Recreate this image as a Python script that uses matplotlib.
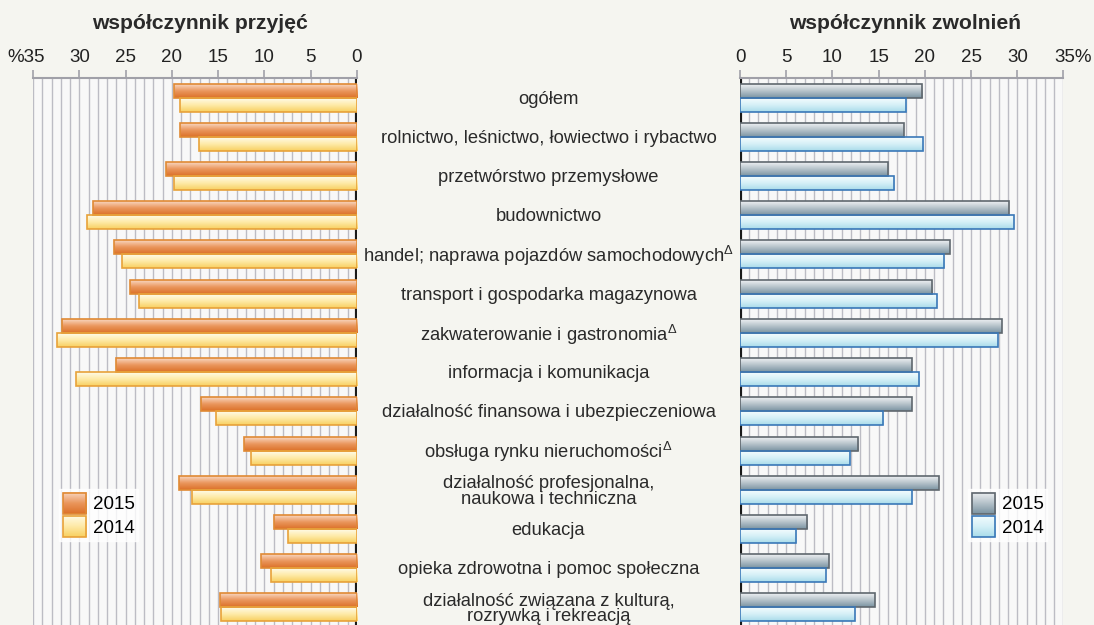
import numpy as np
import matplotlib
matplotlib.use("Agg")
import matplotlib.pyplot as plt
import matplotlib.transforms as mtrans
from matplotlib.colors import LinearSegmentedColormap
from matplotlib.patches import Patch, Rectangle
from matplotlib.legend_handler import HandlerBase
from matplotlib.image import BboxImage

plt.rcParams["font.family"] = ["Liberation Sans", "DejaVu Sans"]
plt.rcParams["mathtext.fontset"] = "custom"
plt.rcParams["mathtext.rm"] = "Liberation Sans"

# data
categories = [
    "ogółem",
    "rolnictwo, leśnictwo, łowiectwo i rybactwo",
    "przetwórstwo przemysłowe",
    "budownictwo",
    "handel; naprawa pojazdów samochodowych$^{\\Delta}$",
    "transport i gospodarka magazynowa",
    "zakwaterowanie i gastronomia$^{\\Delta}$",
    "informacja i komunikacja",
    "działalność finansowa i ubezpieczeniowa",
    "obsługa rynku nieruchomości$^{\\Delta}$",
    "działalność profesjonalna,\nnaukowa i techniczna",
    "edukacja",
    "opieka zdrowotna i pomoc społeczna",
    "działalność związana z kulturą,\nrozrywką i rekreacją",
]
hires_2015 = [19.8, 19.1, 20.6, 28.5, 26.2, 24.5, 31.9, 26.0, 16.9, 12.2, 19.2, 9.0, 10.4, 14.8]
hires_2014 = [19.1, 17.1, 19.8, 29.2, 25.4, 23.5, 32.4, 30.4, 15.2, 11.4, 17.8, 7.4, 9.3, 14.7]
fires_2015 = [19.7, 17.7, 16.0, 29.1, 22.7, 20.8, 28.3, 18.6, 18.6, 12.8, 21.5, 7.3, 9.6, 14.6]
fires_2014 = [18.0, 19.8, 16.7, 29.6, 22.1, 21.3, 27.9, 19.4, 15.5, 11.9, 18.6, 6.1, 9.3, 12.4]
years = ["2015", "2014"]
tick_values = [0, 5, 10, 15, 20, 25, 30, 35]

# gradient colours (top -> bottom of each bar)
cmap_or = LinearSegmentedColormap.from_list("or", ["#f8d6c0", "#ea965c", "#dc7028"])
cmap_ye = LinearSegmentedColormap.from_list("ye", ["#fffbe8", "#feeaa8", "#f8d060"])
cmap_gr = LinearSegmentedColormap.from_list("gr", ["#eef0f2", "#b5c2ca", "#7b93a1"])
cmap_cy = LinearSegmentedColormap.from_list("cy", ["#f4fcfe", "#d5f0f7", "#a9dcea"])

fig = plt.figure(figsize=(10.94, 6.25), dpi=100)
fig.patch.set_facecolor("#f5f5f0")

ax_l = fig.add_axes([33 / 1094, -2 / 625, 324 / 1094, 549 / 625])
ax_r = fig.add_axes([740 / 1094, -2 / 625, 323.5 / 1094, 549 / 625])

y = np.arange(len(categories))
h = 0.357
grad = np.linspace(0, 1, 64).reshape(-1, 1)


class GradHandler(HandlerBase):
    # legend swatch with the same vertical gradient as the bars
    def __init__(self, cmap, edge):
        super().__init__()
        self.cmap = cmap
        self.edge = edge

    def create_artists(self, legend, orig_handle, xdescent, ydescent,
                       width, height, fontsize, trans):
        bb = mtrans.Bbox.from_bounds(-xdescent, -ydescent, width, height)
        img = BboxImage(mtrans.TransformedBbox(bb, trans), cmap=self.cmap,
                        interpolation="bilinear")
        img.set_data(grad)
        rect = Rectangle((-xdescent, -ydescent), width, height, facecolor="none",
                         edgecolor=self.edge, linewidth=1.2, transform=trans)
        return [img, rect]


def gradient_bars(ax, vals, offset, cmap, edge):
    bars = ax.barh(y + offset, vals, height=h, facecolor="none",
                   edgecolor=edge, linewidth=1.2, zorder=4)
    for b in bars:
        x0, y0, w, hh = b.get_x(), b.get_y(), b.get_width(), b.get_height()
        ax.imshow(grad, cmap=cmap, extent=(x0, x0 + w, y0 + hh, y0),
                  aspect="auto", interpolation="bilinear", zorder=3)
    return bars


def style_axis(ax, inverted):
    ax.set_facecolor("#f8f8f8")
    ax.set_xlim((35, 0) if inverted else (0, 35))
    ax.set_ylim(13.5, -0.5)
    ax.set_yticks([])
    ax.xaxis.tick_top()
    ax.set_xticks(tick_values)
    ax.set_xticks(range(0, 36), minor=True)
    ax.grid(which="both", axis="x", color="#bcbcc4", linewidth=1, zorder=0)
    ax.set_axisbelow(True)
    ax.tick_params(which="major", top=True, bottom=False, labeltop=True,
                   labelbottom=False, length=6, width=1.2, color="#a0a0a8",
                   pad=3, labelsize=13.5, labelcolor="#222222")
    ax.tick_params(which="minor", top=False, bottom=False)
    for s in ["left", "right", "bottom"]:
        ax.spines[s].set_visible(False)
    ax.spines["top"].set_color("#a0a0a8")
    ax.spines["top"].set_linewidth(1.5)
    ax.axvline(0, color="#1a1a1a", linewidth=3, zorder=2)


def add_legend(ax, cmaps, edges, anchor):
    handles = [Patch(label=years[0]), Patch(label=years[1])]
    leg = ax.legend(handles=handles, loc="lower left", bbox_to_anchor=anchor,
                    fontsize=13.5, frameon=True, fancybox=False, handlelength=1.25,
                    handleheight=1.35, handletextpad=0.35, labelspacing=0.12,
                    borderpad=0.2, borderaxespad=0,
                    handler_map={handles[0]: GradHandler(cmaps[0], edges[0]),
                                 handles[1]: GradHandler(cmaps[1], edges[1])})
    leg.get_frame().set_facecolor("white")
    leg.get_frame().set_edgecolor("white")
    leg.set_zorder(6)
    return leg


# left panel - hires
gradient_bars(ax_l, hires_2015, -h / 2, cmap_or, "#e08a34")
gradient_bars(ax_l, hires_2014, h / 2, cmap_ye, "#e8a23a")
style_axis(ax_l, True)
labels_l = [str(v) for v in tick_values]
labels_l[-1] = "%35"
ax_l.set_xticklabels(labels_l)
lab = ax_l.get_xticklabels()[-1]
lab.set_transform(lab.get_transform() + mtrans.ScaledTranslation(-5 / 72, 0, fig.dpi_scale_trans))
add_legend(ax_l, [cmap_or, cmap_ye], ["#e08a34", "#e8a23a"], (0.08, 0.157))

# right panel - separations
gradient_bars(ax_r, fires_2015, -h / 2, cmap_gr, "#5f676e")
gradient_bars(ax_r, fires_2014, h / 2, cmap_cy, "#3a78b8")
style_axis(ax_r, False)
labels_r = [str(v) for v in tick_values]
labels_r[-1] = "35%"
ax_r.set_xticklabels(labels_r)
lab = ax_r.get_xticklabels()[-1]
lab.set_transform(lab.get_transform() + mtrans.ScaledTranslation(7 / 72, 0, fig.dpi_scale_trans))
add_legend(ax_r, [cmap_gr, cmap_cy], ["#5f676e", "#3a78b8"], (0.705, 0.157))

# category labels in the middle
tr = mtrans.blended_transform_factory(fig.transFigure, ax_l.transData)
for i, c in enumerate(categories):
    fig.text(548.5 / 1094, i + 0.04, c, transform=tr, ha="center", va="center",
             fontsize=13.2, color="#2a2a2a", linespacing=0.88)

# titles
fig.text(200 / 1094, 1 - 29 / 625, "współczynnik przyjęć", ha="center",
         va="baseline", fontsize=15.2, fontweight="bold", color="#2a2a2a")
fig.text(905 / 1094, 1 - 29 / 625, "współczynnik zwolnień", ha="center",
         va="baseline", fontsize=15.2, fontweight="bold", color="#2a2a2a")

plt.savefig("out.png", dpi=100, facecolor=fig.get_facecolor())
print("saved")
